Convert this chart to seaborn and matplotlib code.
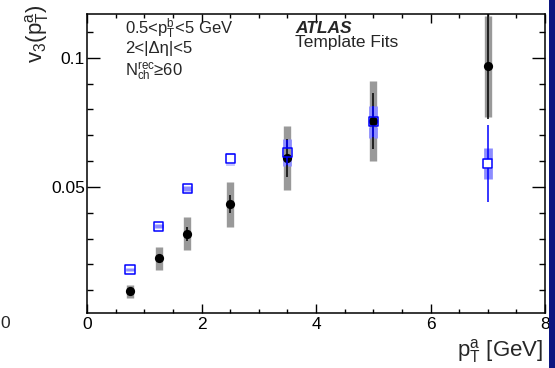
"""v3(pT^a) from template fits, ATLAS style panel."""
import matplotlib
matplotlib.use("Agg")
import matplotlib.pyplot as plt
from matplotlib.patches import Rectangle
from matplotlib.ticker import MultipleLocator, FixedLocator
import seaborn as sns

# associated-particle pT bin centres [GeV]
pt = [0.75, 1.25, 1.75, 2.5, 3.5, 5.0, 7.0]

# black filled circles: template-fit v3 with stat / sys errors
v3_fit = [0.0096, 0.0224, 0.0319, 0.0433, 0.0612, 0.0755, 0.0966]
v3_fit_stat = [0.0008, 0.0012, 0.0027, 0.0035, 0.0072, 0.0110, 0.0205]
v3_fit_sys = [0.0025, 0.0045, 0.0065, 0.0087, 0.0123, 0.0153, 0.0194]

# blue open squares: comparison v3 with stat / sys errors
v3_alt = [0.0181, 0.0348, 0.0494, 0.0609, 0.0633, 0.0752, 0.0591]
v3_alt_stat = [0.0003, 0.0005, 0.0008, 0.0012, 0.0050, 0.0060, 0.0149]
v3_alt_sys = [0.0005, 0.0007, 0.0010, 0.0023, 0.0054, 0.0062, 0.0060]

x_ticks = [0, 2, 4, 6, 8]
y_ticks = [0.05, 0.1]
y_ticklabels = ["0.05", "0.1"]

sns.set_theme(style="ticks")
plt.rcParams["font.family"] = ["Liberation Sans", "DejaVu Sans"]
plt.rcParams["mathtext.fontset"] = "custom"
plt.rcParams["mathtext.rm"] = "Liberation Sans"
plt.rcParams["mathtext.it"] = "Liberation Sans"
plt.rcParams["mathtext.default"] = "regular"

YMIN, YMAX = 0.0012, 0.1169

fig = plt.figure(figsize=(5.55, 3.68), dpi=100)
ax = fig.add_axes([0.157, 0.1495, 0.825, 0.8125])
ax.set_xlim(0, 8)
ax.set_ylim(YMIN, YMAX)

# half size of the open square, in data units, so the blue lines stop at it
ax_h = ax.get_window_extent().height
gap = 4.8 * (YMAX - YMIN) / ax_h

GREY = "#999999"
LBLUE = "#8c8cff"
BLUE = "#0000ff"

# systematic bands
ax.vlines(pt, [v - s for v, s in zip(v3_fit, v3_fit_sys)],
          [v + s for v, s in zip(v3_fit, v3_fit_sys)],
          color=GREY, lw=5.3, zorder=1)
for x, v, s in zip(pt, v3_alt, v3_alt_sys):
    if s > gap:
        ax.vlines([x, x], [v + gap, v - s], [v + s, v - gap], color=LBLUE, lw=6.3, zorder=2)
    else:
        ax.vlines(x, v - s, v + s, color=LBLUE, lw=6.3, zorder=2)

# statistical errors
ax.vlines(pt, [v - s for v, s in zip(v3_fit, v3_fit_stat)],
          [v + s for v, s in zip(v3_fit, v3_fit_stat)],
          color="black", lw=1.1, zorder=3)
for x, v, s in zip(pt, v3_alt, v3_alt_stat):
    if s > gap:
        ax.vlines([x, x], [v + gap, v - s], [v + s, v - gap], color=BLUE, lw=1.1, zorder=5)

sns.scatterplot(x=pt, y=v3_fit, ax=ax, marker="o", s=44, color="black",
                edgecolor="black", linewidth=0, zorder=4)
sns.scatterplot(x=pt, y=v3_alt, ax=ax, marker="s", s=44, facecolor="none",
                edgecolor=BLUE, linewidth=1.1, zorder=6)

# ROOT-like frame and ticks
for sp in ax.spines.values():
    sp.set_visible(True)
    sp.set_linewidth(1.1)
    sp.set_color("black")
ax.xaxis.set_major_locator(FixedLocator(x_ticks))
ax.xaxis.set_minor_locator(MultipleLocator(0.5))
ax.yaxis.set_major_locator(FixedLocator(y_ticks))
ax.yaxis.set_minor_locator(MultipleLocator(0.01))
ax.set_xticklabels([str(t) for t in x_ticks])
ax.set_yticklabels(y_ticklabels)
ax.tick_params(axis="both", which="both", direction="in", top=True, right=True,
               color="black", width=1.0, labelsize=12.5, labelcolor="black")
ax.tick_params(axis="x", which="major", length=6.5, pad=3)
ax.tick_params(axis="x", which="minor", length=3.2)
ax.tick_params(axis="y", which="major", length=9.4, pad=1.5)
ax.tick_params(axis="y", which="minor", length=4.3)

# axis titles
fig.text(0.066, 0.988, r"v$_{3}$(p$_{T}^{a}$)", rotation=90, ha="center", va="top", fontsize=16)
fig.text(0.979, 0.046, r"p$_{T}^{a}$ [GeV]", ha="right", va="center", fontsize=16)
# leftover tick label of the neighbouring panel
fig.text(0.009, 0.122, "0", ha="center", va="center", fontsize=12.5)

# labels inside the frame
ax.text(0.083, 0.935, r"0.5<p$_{T}^{b}$<5 GeV", transform=ax.transAxes,
        ha="left", va="baseline", fontsize=12)
ax.text(0.083, 0.868, "2<|Δη|<5", transform=ax.transAxes,
        ha="left", va="baseline", fontsize=12)
ax.text(0.083, 0.795, r"N$_{ch}^{rec}$≥60", transform=ax.transAxes,
        ha="left", va="baseline", fontsize=12)
ax.text(0.455, 0.938, "ATLAS", transform=ax.transAxes, ha="left", va="baseline",
        fontsize=12.5, fontweight="bold", fontstyle="italic")
ax.text(0.455, 0.889, "Template Fits", transform=ax.transAxes, ha="left",
        va="baseline", fontsize=12.5)

# dark slide border on the right edge
fig.patches.append(Rectangle((0.99, 0), 0.01, 1, transform=fig.transFigure,
                             facecolor="#0c1680", edgecolor="none"))

fig.savefig("out.png", dpi=100)
